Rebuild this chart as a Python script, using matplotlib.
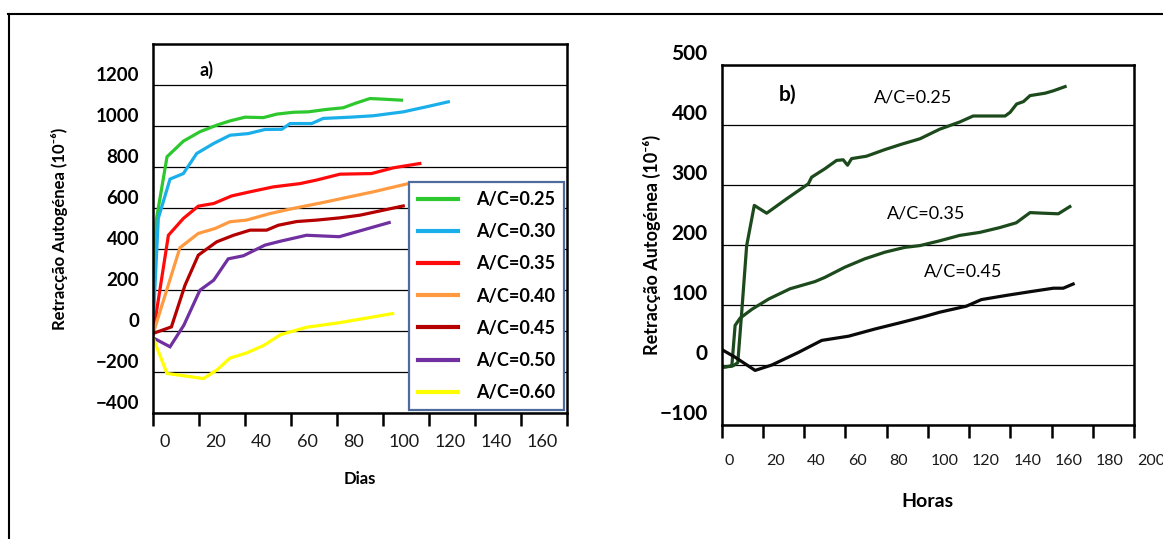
#!/usr/bin/env python3
"""
Autogenous shrinkage: a) days, several A/C ratios; b) first hours
"""

import matplotlib
matplotlib.use("Agg")
import matplotlib.pyplot as plt
from matplotlib.lines import Line2D
from matplotlib.transforms import ScaledTranslation

plt.rcParams['font.family'] = ['Lato', 'DejaVu Sans']

# ---- panel a) data (days, 1e-6) ----
ac_labels_a = ['A/C=0.25', 'A/C=0.30', 'A/C=0.35', 'A/C=0.40', 'A/C=0.45', 'A/C=0.50', 'A/C=0.60']
colors_a = ['#2DC82D', '#1AAFEA', '#FF0A0A', '#FF9A40', '#B50000', '#7030A0', '#FFFF00']

d025 = [0, 1.3, 6.1, 13.2, 20.4, 27.7, 33.5, 40, 48, 53.8, 61, 67.5, 74.8, 82.7, 87.8, 94.3, 100, 108]
v025 = [30, 533, 850, 926, 972, 1004, 1025, 1043, 1041, 1058, 1067, 1069, 1080, 1089, 1110, 1134, 1131, 1126]

d030 = [0, 2.3, 7.4, 13.2, 19, 26.4, 33.5, 41.4, 48.7, 56, 59.6, 69, 74, 85.7, 95.8, 108.8, 119, 128.4]
v030 = [20, 549, 741, 768, 866, 915, 955, 963, 983, 984, 1012, 1012, 1037, 1043, 1050, 1069, 1094, 1118]

d035 = [0, 6.7, 13.2, 19.7, 26.4, 34.2, 42.2, 52.3, 63.9, 71, 81.3, 95, 104.5, 116]
v035 = [-15, 467, 549, 609, 622, 659, 679, 703, 719, 736, 765, 768, 796, 817]

d040 = [0, 11.7, 19.7, 27, 33.5, 40.7, 50.9, 61, 74, 85.7, 95.8, 111]
v040 = [-15, 406, 476, 500, 533, 541, 573, 598, 627, 655, 679, 719]

d045 = [0, 8, 13.9, 19.7, 27.7, 35, 42.2, 49.4, 54.5, 62.5, 71.2, 81.3, 90, 100, 108.8]
v045 = [-12, 20, 223, 370, 435, 467, 492, 492, 516, 534, 541, 552, 565, 589, 610]

d050 = [0, 7.4, 13.4, 20.4, 26.4, 32.7, 39.3, 48.7, 55.4, 66.7, 81, 102.7]
v050 = [-33, -77, 28, 199, 248, 352, 367, 419, 438, 467, 460, 529]

d060 = [0, 6.1, 21.9, 27.7, 33.5, 40.7, 48.2, 55.4, 66.7, 81.3, 104.2]
v060 = [-33, -207, -232, -191, -132, -107, -70, -18, 18, 41, 85]

# ---- panel b) data (hours, 1e-6) ----
h025 = [0, 5.8, 7.9, 9.8, 12.2, 15.9, 21.9, 31.6, 42.1, 43.7, 50.1, 55.8, 59, 61.1, 63.1, 70.3,
        79.2, 87.3, 96.2, 105.8, 115.5, 122, 137.5, 139.9, 143.1, 146.4, 149.6, 156.9, 160.9, 166.6]
b025 = [-4, -1, 4, 88, 199, 266, 253, 277, 302, 313, 327, 341, 342, 333, 344, 348,
        359, 368, 377, 393, 405, 415, 415, 421, 435, 439, 449, 453, 457, 464]

h035 = [0, 5, 6.6, 9, 14.8, 22.9, 33.2, 45.3, 50.1, 59.8, 69.5, 79.2, 88.8, 96.2,
        105.8, 115.5, 125.2, 134.9, 142.9, 149.6, 156, 163.3, 168.9]
b035 = [-4, -2, 66, 78, 93, 110, 127, 139, 146, 163, 177, 188, 196, 199,
        207, 216, 221, 229, 237, 254, 253, 252, 264]

h045 = [0, 6.6, 16.3, 24.4, 37.3, 48.6, 61.6, 74.4, 87.3, 98.6, 105.8, 118.7, 126, 138.1,
        149.3, 160.9, 165.7, 170.5]
b045 = [26, 13, -9, 0, 21, 41, 48, 60, 71, 81, 88, 98, 109, 116, 122, 128, 128, 135]


def px(dx, dy, fig):
    return ScaledTranslation(dx / 100, dy / 100, fig.dpi_scale_trans)


def style_axis(ax, fig, yfs, xfs, ydy, xdx, xlab_pad):
    for s in ax.spines.values():
        s.set_linewidth(1.8)
        s.set_color('black')
    ax.grid(True, axis='y', color='black', linewidth=0.9)
    ax.set_axisbelow(True)
    ax.tick_params(axis='y', length=0, pad=10)
    ax.tick_params(axis='x', direction='out', length=9, width=1.8, pad=xlab_pad)
    for t in ax.get_yticklabels():
        t.set_fontsize(yfs)
        t.set_fontweight('bold')
        t.set_transform(t.get_transform() + px(0, ydy, fig))
    for t in ax.get_xticklabels():
        t.set_fontsize(xfs)
        t.set_color('#1a1a1a')
        t.set_horizontalalignment('left')
        t.set_transform(t.get_transform() + px(xdx, 0, fig))


fig = plt.figure(figsize=(11.63, 5.39), dpi=100)

# ---------------- panel a ----------------
ax1 = fig.add_axes([153 / 1163, 1 - 413 / 539, 414 / 1163, 369 / 539])
series_a = [(d025, v025), (d030, v030), (d035, v035), (d040, v040),
            (d045, v045), (d050, v050), (d060, v060)]
for (x, y), lab, c in zip(series_a, ac_labels_a, colors_a):
    ax1.plot(x, y, color=c, linewidth=2.3, label=lab, solid_joinstyle='miter')
ax1.set_xlim(0, 180)
ax1.set_ylim(-400, 1400)
ax1.set_xticks(range(0, 181, 20))
ax1.set_xticklabels([str(v) for v in range(0, 161, 20)] + [''])
ax1.set_yticks(range(-400, 1201, 200))
style_axis(ax1, fig, 13.5, 13, 11, 6, 6)
ax1.set_xlabel('Dias', fontsize=12, fontweight='bold', labelpad=15)
ax1.set_ylabel('Retracção Autogénea (10⁻⁶)', fontsize=12, fontweight='bold', labelpad=20)
ax1.text(0.13, 0.93, 'a)', transform=ax1.transAxes, fontsize=13, fontweight='bold',
         ha='center', va='center')
leg = ax1.legend(loc='upper left', bbox_to_anchor=(409 / 1163, 1 - 182 / 539),
                 bbox_transform=fig.transFigure, fancybox=False, framealpha=1,
                 edgecolor='#4F6B9B', prop={'size': 13, 'weight': 'bold'},
                 handlelength=2.2, handletextpad=1.0, labelspacing=0.84,
                 borderpad=0.5, borderaxespad=0)
leg.get_frame().set_linewidth(1.6)
for h in leg.get_lines():
    h.set_linewidth(3)

# ---------------- panel b ----------------
ax2 = fig.add_axes([721.5 / 1163, 1 - 425 / 539, 412.5 / 1163, 360 / 539])
ax2.plot(h025, b025, color='#1C4A1C', linewidth=2.3)
ax2.plot(h035, b035, color='#1C4A1C', linewidth=2.3)
ax2.plot(h045, b045, color='#0a0a0a', linewidth=2.3)
ax2.set_xlim(0, 200)
ax2.set_ylim(-100, 500)
ax2.set_xticks(range(0, 201, 20))
ax2.set_yticks(range(-100, 501, 100))
style_axis(ax2, fig, 15, 11.5, 13, 3, 12)
ax2.set_xlabel('Horas', fontsize=14, fontweight='bold', labelpad=18)
ax2.set_ylabel('Retracção Autogénea (10⁻⁶)', fontsize=13, fontweight='bold', labelpad=-1)
ax2.text(0.16, 0.917, 'b)', transform=ax2.transAxes, fontsize=15, fontweight='bold',
         ha='center', va='center')
ax2.text(93, 445, 'A/C=0.25', fontsize=13, ha='center', va='center')
ax2.text(99, 252, 'A/C=0.35', fontsize=13, ha='center', va='center')
ax2.text(117, 155, 'A/C=0.45', fontsize=13, ha='center', va='center')

# outer frame lines
fig.add_artist(Line2D([8 / 1163, 1], [1 - 14 / 539] * 2, color='black', linewidth=1.5,
                      transform=fig.transFigure))
fig.add_artist(Line2D([9 / 1163] * 2, [0, 1 - 14 / 539], color='black', linewidth=1.5,
                      transform=fig.transFigure))

fig.savefig('out.png', dpi=100)
